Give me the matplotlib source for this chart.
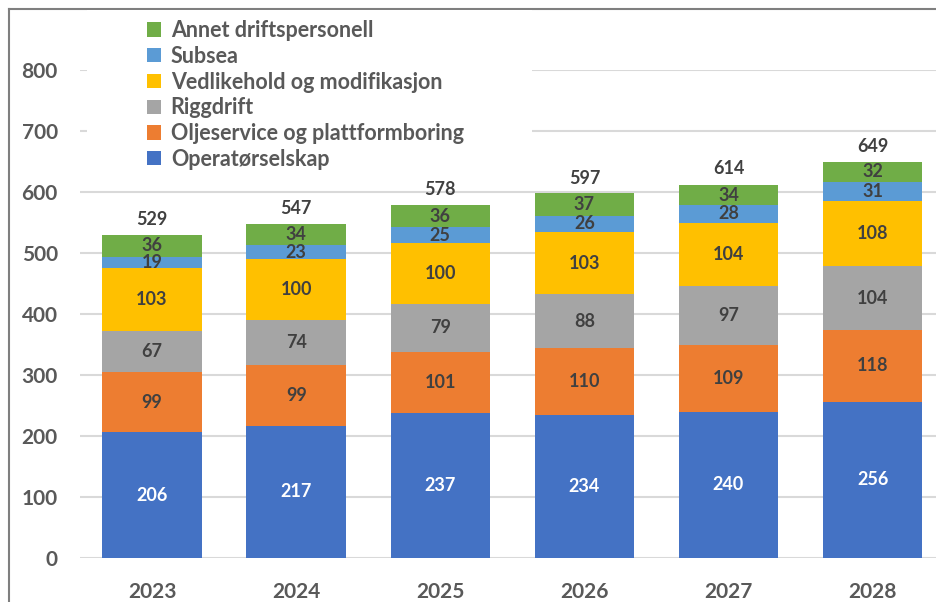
import matplotlib.pyplot as plt
import numpy as np
from matplotlib.lines import Line2D
from matplotlib.patches import Rectangle

plt.rcParams['font.family'] = ['Lato', 'DejaVu Sans']

years = ['2023', '2024', '2025', '2026', '2027', '2028']
operator = [206, 217, 237, 234, 240, 256]
oljeservice = [99, 99, 101, 110, 109, 118]
riggdrift = [67, 74, 79, 88, 97, 104]
vedlikehold = [103, 100, 100, 103, 104, 108]
subsea = [19, 23, 25, 26, 28, 31]
annet = [36, 34, 36, 37, 34, 32]
totals = [529, 547, 578, 597, 614, 649]

series = [
    ('Operatørselskap', operator, '#4472C4', 'white'),
    ('Oljeservice og plattformboring', oljeservice, '#ED7D31', '#404040'),
    ('Riggdrift', riggdrift, '#A5A5A5', '#404040'),
    ('Vedlikehold og modifikasjon', vedlikehold, '#FFC000', '#404040'),
    ('Subsea', subsea, '#5B9BD5', '#404040'),
    ('Annet driftspersonell', annet, '#70AD47', '#404040'),
]

fig = plt.figure(figsize=(9.36, 6.02), dpi=100)
ax = fig.add_axes([80 / 936, 44 / 602, 856 / 936, 488 / 602])

x = np.arange(len(years))
bottom = np.zeros(len(years))
handles = []
for name, vals, color, txtcolor in series:
    bars = ax.bar(x, vals, 0.69, bottom=bottom, color=color, label=name, zorder=2)
    ax.bar_label(bars, labels=[str(v) for v in vals], label_type='center',
                 color=txtcolor, fontsize=13, fontweight='bold')
    handles.append(bars)
    bottom += np.array(vals)

# totals above each stack
for xi, t in zip(x, totals):
    ax.annotate(str(t), (xi, t), xytext=(0, 5), textcoords='offset points',
                ha='center', va='bottom', fontsize=13, fontweight='bold',
                color='#404040')

ax.set_xlim(-0.5, 5.44)
ax.set_ylim(0, 800)
ax.set_yticks(range(0, 801, 100))
ax.set_xticks(x)
ax.set_xticklabels(years)
ax.yaxis.grid(True, color='#d9d9d9', linewidth=1.5, zorder=0)
ax.set_axisbelow(True)
for s in ax.spines.values():
    s.set_visible(False)
ax.tick_params(axis='both', length=0, labelsize=15, labelcolor='#595959')
ax.tick_params(axis='y', pad=16)
ax.tick_params(axis='x', pad=17)
for lbl in ax.get_xticklabels() + ax.get_yticklabels():
    lbl.set_fontweight('bold')

# white legend area over the top gridlines
fig.patches.append(Rectangle((87 / 936, 1 - 178 / 602), 445 / 936, 168 / 602,
                             transform=fig.transFigure, facecolor='white',
                             edgecolor='none', zorder=3))
leg = fig.legend(handles[::-1], [s[0] for s in series][::-1],
                 loc='upper left', bbox_to_anchor=(132 / 936, 1 - 5 / 602),
                 frameon=False, fontsize=15.5, handlelength=0.65, handleheight=0.65,
                 handletextpad=0.45, labelspacing=0.22, borderpad=0.2)
for t in leg.get_texts():
    t.set_fontweight('bold')
    t.set_color('#595959')
leg.set_zorder(4)

# outer frame lines
fig.add_artist(Line2D([9 / 936, 1], [1 - 9 / 602, 1 - 9 / 602],
                      transform=fig.transFigure, color='#7f7f7f', linewidth=1.5))
fig.add_artist(Line2D([9 / 936, 9 / 936], [0, 1 - 9 / 602],
                      transform=fig.transFigure, color='#7f7f7f', linewidth=1.5))

fig.savefig('out.png', dpi=100)
